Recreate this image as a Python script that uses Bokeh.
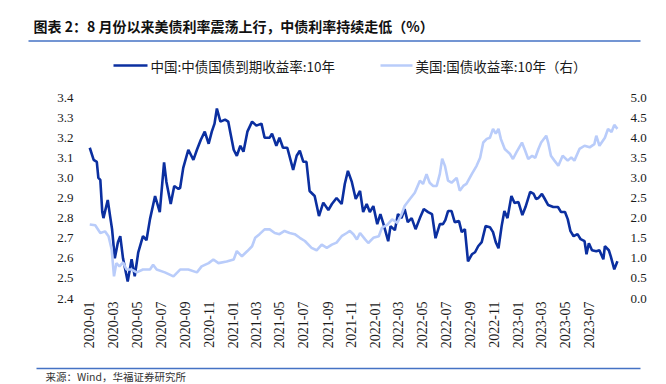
import pandas as pd
from bokeh.plotting import figure
from bokeh.layouts import column
from bokeh.core.properties import value
from bokeh.models import (Range1d, LinearAxis, FixedTicker, DatetimeTickFormatter,
                          PrintfTickFormatter)
from bokeh.embed import file_html
from bokeh.resources import INLINE
import math

title_text = "图表 2：8 月份以来美债利率震荡上行，中债利率持续走低（%）"
source_text = "来源：Wind，华福证券研究所"
cn_name = "中国:中债国债到期收益率:10年"
us_name = "美国:国债收益率:10年（右）"

cn_dates = ["2020-01-02", "2020-01-12", "2020-01-20", "2020-01-24", "2020-01-29", "2020-02-03",
            "2020-02-06", "2020-02-17", "2020-02-23", "2020-02-28", "2020-03-06", "2020-03-14",
            "2020-03-20", "2020-03-27", "2020-04-08", "2020-04-18", "2020-04-26", "2020-05-05",
            "2020-05-17", "2020-05-26", "2020-06-04", "2020-06-17", "2020-06-29", "2020-07-10",
            "2020-07-16", "2020-07-27", "2020-08-05", "2020-08-16", "2020-08-20", "2020-08-28",
            "2020-09-10", "2020-09-23", "2020-10-02", "2020-10-12", "2020-10-22", "2020-11-01",
            "2020-11-09", "2020-11-16", "2020-11-22", "2020-12-01", "2020-12-13", "2020-12-21",
            "2020-12-26", "2021-01-04", "2021-01-12", "2021-01-21", "2021-01-29", "2021-02-08",
            "2021-02-20", "2021-03-03", "2021-03-16", "2021-03-24", "2021-04-06", "2021-04-12",
            "2021-04-23", "2021-05-01", "2021-05-10", "2021-05-21", "2021-06-05", "2021-06-14",
            "2021-06-22", "2021-07-01", "2021-07-09", "2021-07-17", "2021-07-30", "2021-08-10",
            "2021-08-21", "2021-09-03", "2021-09-12", "2021-09-24", "2021-10-07", "2021-10-15",
            "2021-10-23", "2021-11-02", "2021-11-12", "2021-11-23", "2021-12-01", "2021-12-10",
            "2021-12-18", "2021-12-27", "2022-01-06", "2022-01-14", "2022-01-22", "2022-02-03",
            "2022-02-09", "2022-02-20", "2022-02-28", "2022-03-09", "2022-03-17", "2022-03-25",
            "2022-04-04", "2022-04-14", "2022-04-25", "2022-05-05", "2022-05-16", "2022-05-26",
            "2022-06-04", "2022-06-15", "2022-06-23", "2022-06-29", "2022-07-06", "2022-07-15",
            "2022-07-23", "2022-08-03", "2022-08-10", "2022-08-18", "2022-08-26", "2022-09-05",
            "2022-09-13", "2022-09-21", "2022-09-30", "2022-10-10", "2022-10-21", "2022-10-29",
            "2022-11-05", "2022-11-12", "2022-11-20", "2022-11-27", "2022-12-05", "2022-12-15",
            "2022-12-23", "2023-01-02", "2023-01-12", "2023-01-20", "2023-02-01", "2023-02-10",
            "2023-02-16", "2023-02-22", "2023-03-03", "2023-03-09", "2023-03-19", "2023-04-01",
            "2023-04-13", "2023-04-21", "2023-05-01", "2023-05-08", "2023-05-15", "2023-05-23",
            "2023-06-02", "2023-06-10", "2023-06-20", "2023-06-25", "2023-07-01", "2023-07-09",
            "2023-07-20", "2023-07-28", "2023-08-07", "2023-08-11", "2023-08-21", "2023-08-26",
            "2023-09-04", "2023-09-12"]
cn_values = [3.15, 3.09, 3.08, 3.00, 2.99, 2.83,
             2.80, 2.89, 2.81, 2.745, 2.60, 2.68,
             2.71, 2.60, 2.485, 2.595, 2.51, 2.63,
             2.71, 2.69, 2.795, 2.91, 2.83, 3.077,
             2.98, 2.87, 2.96, 2.945, 2.95, 3.05,
             3.14, 3.09, 3.14, 3.19, 3.23, 3.17,
             3.23, 3.27, 3.345, 3.28, 3.29, 3.28,
             3.23, 3.14, 3.11, 3.16, 3.13, 3.23,
             3.28, 3.26, 3.27, 3.20, 3.20, 3.22,
             3.16, 3.20, 3.15, 3.15, 3.04, 3.11,
             3.135, 3.08, 3.08, 2.935, 2.91, 2.81,
             2.877, 2.84, 2.87, 2.90, 2.87, 2.97,
             3.035, 2.98, 2.895, 2.935, 2.83, 2.87,
             2.83, 2.86, 2.77, 2.82, 2.77, 2.685,
             2.76, 2.74, 2.82, 2.80, 2.845, 2.78,
             2.80, 2.745, 2.80, 2.845, 2.83, 2.82,
             2.70, 2.77, 2.77, 2.79, 2.835, 2.835,
             2.78, 2.785, 2.73, 2.745, 2.585, 2.62,
             2.63, 2.66, 2.68, 2.76, 2.755, 2.73,
             2.68, 2.65, 2.76, 2.835, 2.80, 2.91,
             2.875, 2.88, 2.815, 2.855, 2.93, 2.92,
             2.895, 2.90, 2.92, 2.90, 2.865, 2.855,
             2.855, 2.83, 2.83, 2.795, 2.735, 2.71,
             2.72, 2.695, 2.685, 2.62, 2.675, 2.64,
             2.635, 2.64, 2.595, 2.66, 2.64, 2.61,
             2.545, 2.585]

us_dates = ["2020-01-02", "2020-01-16", "2020-01-29", "2020-02-10", "2020-02-19", "2020-02-27",
            "2020-03-04", "2020-03-10", "2020-03-18", "2020-03-27", "2020-04-05", "2020-04-18",
            "2020-05-01", "2020-05-17", "2020-06-04", "2020-06-12", "2020-06-21", "2020-07-12",
            "2020-08-03", "2020-08-20", "2020-08-28", "2020-09-10", "2020-10-02", "2020-10-14",
            "2020-11-01", "2020-11-13", "2020-11-26", "2020-12-17", "2021-01-04", "2021-01-12",
            "2021-01-25", "2021-02-08", "2021-02-20", "2021-02-28", "2021-03-11", "2021-03-24",
            "2021-04-06", "2021-04-19", "2021-05-01", "2021-05-14", "2021-05-27", "2021-06-09",
            "2021-06-22", "2021-07-05", "2021-07-22", "2021-08-04", "2021-08-17", "2021-08-30",
            "2021-09-12", "2021-09-24", "2021-10-07", "2021-10-20", "2021-10-28", "2021-11-06",
            "2021-11-15", "2021-11-23", "2021-12-06", "2021-12-14", "2021-12-27", "2022-01-10",
            "2022-01-18", "2022-02-01", "2022-02-13", "2022-02-26", "2022-03-09", "2022-03-17",
            "2022-03-30", "2022-04-12", "2022-04-25", "2022-05-03", "2022-05-12", "2022-05-20",
            "2022-05-29", "2022-06-07", "2022-06-15", "2022-06-21", "2022-06-28", "2022-07-06",
            "2022-07-15", "2022-07-28", "2022-08-05", "2022-08-14", "2022-08-22", "2022-09-05",
            "2022-09-17", "2022-09-26", "2022-10-04", "2022-10-13", "2022-10-21", "2022-10-29",
            "2022-11-05", "2022-11-12", "2022-11-18", "2022-11-28", "2022-12-11", "2022-12-19",
            "2022-12-28", "2023-01-11", "2023-01-19", "2023-01-27", "2023-02-06", "2023-02-14",
            "2023-02-22", "2023-03-01", "2023-03-14", "2023-03-19", "2023-03-26", "2023-04-04",
            "2023-04-14", "2023-04-25", "2023-05-08", "2023-05-17", "2023-05-25", "2023-06-07",
            "2023-06-20", "2023-07-03", "2023-07-15", "2023-07-20", "2023-07-28", "2023-08-11",
            "2023-08-19", "2023-08-28", "2023-09-04", "2023-09-12"]
us_values = [1.84, 1.82, 1.63, 1.67, 1.55, 1.22,
             0.55, 0.88, 0.80, 0.90, 0.72, 0.72,
             0.65, 0.72, 0.72, 0.84, 0.72, 0.65,
             0.55, 0.72, 0.72, 0.72, 0.65, 0.80,
             0.88, 0.97, 0.88, 0.92, 0.97, 1.18,
             1.05, 1.18, 1.30, 1.51, 1.60, 1.72,
             1.72, 1.63, 1.60, 1.68, 1.63, 1.60,
             1.51, 1.43, 1.26, 1.20, 1.34, 1.26,
             1.34, 1.39, 1.55, 1.63, 1.68, 1.60,
             1.47, 1.63, 1.47, 1.38, 1.51, 1.55,
             1.76, 1.84, 1.97, 1.88, 2.09, 2.30,
             2.47, 2.63, 2.93, 2.85, 3.09, 2.88,
             2.80, 2.80, 3.10, 3.48, 3.30, 2.93,
             2.88, 3.00, 2.68, 2.80, 2.85, 3.10,
             3.30, 3.50, 3.88, 3.97, 4.00, 4.22,
             4.10, 4.22, 3.97, 3.72, 3.60, 3.47,
             3.64, 3.88, 3.68, 3.47, 3.55, 3.50,
             3.72, 3.88, 4.05, 3.88, 3.55, 3.43,
             3.30, 3.55, 3.43, 3.51, 3.43, 3.72,
             3.80, 3.76, 3.84, 4.05, 3.80, 4.00,
             4.22, 4.14, 4.32, 4.22]

x_tick_labels = ["2020-01", "2020-03", "2020-05", "2020-07", "2020-09", "2020-11",
                 "2021-01", "2021-03", "2021-05", "2021-07", "2021-09", "2021-11",
                 "2022-01", "2022-03", "2022-05", "2022-07", "2022-09", "2022-11",
                 "2023-01", "2023-03", "2023-05", "2023-07"]
left_ticks = [2.4, 2.5, 2.6, 2.7, 2.8, 2.9, 3.0, 3.1, 3.2, 3.3, 3.4]
right_ticks = [0.0, 0.5, 1.0, 1.5, 2.0, 2.5, 3.0, 3.5, 4.0, 4.5, 5.0]

CN_COLOR = "#0B2FA0"
US_COLOR = "#B9CCFA"
RULE_COLOR = "#4472C4"
TEXT_COLOR = "#1A1A1A"
SERIF = "Liberation Serif"
CJK = "Noto Sans CJK SC"
W = 666


def no_frame_align(f):
    if "frame_align" in f.properties():
        f.frame_align = False
    return f


def blank(height, y_top):
    f = figure(width=W, height=height, x_range=Range1d(0, W),
               y_range=Range1d(y_top + height, y_top), output_backend="svg",
               toolbar_location=None, x_axis_location=None, y_axis_location=None,
               min_border=0, min_border_left=0, min_border_right=0,
               min_border_top=0, min_border_bottom=0)
    f.outline_line_color = None
    f.grid.visible = False
    return no_frame_align(f)


# ---- header: title, rule, legend ----
hdr = blank(88, 0)
hdr.text(x=[33], y=[25], text=[title_text], text_font=value(CJK), text_font_style="bold",
         text_font_size="14px", text_baseline="middle", text_color="#111111")
hdr.segment(x0=[28], y0=[40.5], x1=[640], y1=[40.5], line_color=RULE_COLOR, line_width=1.6)
hdr.segment(x0=[113], y0=[65], x1=[147], y1=[65], line_color=CN_COLOR, line_width=2.6)
hdr.text(x=[150], y=[65], text=[cn_name], text_font=value(CJK), text_font_size="13.5px",
         text_baseline="middle", text_color=TEXT_COLOR)
hdr.segment(x0=[380], y0=[65], x1=[412], y1=[65], line_color=US_COLOR, line_width=2.6)
hdr.text(x=[415], y=[65], text=[us_name], text_font=value(CJK), text_font_size="13.5px",
         text_baseline="middle", text_color=TEXT_COLOR)

# ---- main chart ----
cn_x = pd.to_datetime(cn_dates)
us_x = pd.to_datetime(us_dates)
tick_ms = [pd.Timestamp(t + "-01").timestamp() * 1000 for t in x_tick_labels]

p = figure(width=W, height=278, x_axis_type="datetime", output_backend="svg",
           toolbar_location=None,
           x_range=Range1d(pd.Timestamp("2019-12-17"), pd.Timestamp("2023-09-25")),
           y_range=Range1d(2.4, 3.4),
           min_border_left=83, min_border_right=44, min_border_top=9, min_border_bottom=68)
no_frame_align(p)
p.extra_y_ranges = {"us": Range1d(0.0, 5.0)}
p.outline_line_color = None
p.xgrid.visible = False
p.ygrid.visible = False

fmt = "%Y-%m"
p.xaxis.ticker = FixedTicker(ticks=tick_ms)
p.xaxis.formatter = DatetimeTickFormatter(days=fmt, months=fmt, years=fmt, hours=fmt,
                                          minutes=fmt, seconds=fmt, milliseconds=fmt,
                                          microseconds=fmt, hourmin=fmt, minsec=fmt)
p.xaxis.major_label_orientation = math.pi / 2
p.yaxis.ticker = FixedTicker(ticks=left_ticks)
p.yaxis.formatter = PrintfTickFormatter(format="%.1f")

right_axis = LinearAxis(y_range_name="us", ticker=FixedTicker(ticks=right_ticks),
                        formatter=PrintfTickFormatter(format="%.1f"))
p.add_layout(right_axis, "right")

for ax in [p.xaxis[0], p.yaxis[0], right_axis]:
    ax.axis_line_color = None
    ax.major_tick_line_color = None
    ax.minor_tick_line_color = None
    ax.major_tick_out = 0
    ax.major_tick_in = 0
    ax.minor_tick_out = 0
    ax.major_label_text_font = SERIF
    ax.major_label_text_font_size = "13px"
    ax.major_label_text_color = TEXT_COLOR
p.xaxis.major_label_text_font_size = "14px"
p.xaxis.major_label_standoff = 3
p.yaxis.major_label_standoff = 10
right_axis.major_label_standoff = 8

p.line(cn_x, cn_values, line_color=CN_COLOR, line_width=2.6)
p.line(us_x, us_values, y_range_name="us", line_color=US_COLOR, line_width=2.6)

# ---- footer: rule and source ----
ftr = blank(18, 366)
ftr.segment(x0=[36], y0=[368], x1=[640], y1=[368], line_color=RULE_COLOR, line_width=1.6)
ftr.text(x=[45], y=[376], text=[source_text], text_font=value(CJK), text_font_size="10.5px",
         text_baseline="middle", text_color="#333333")

layout = column(hdr, p, ftr, spacing=0)
open("out.html", "w").write(file_html(layout, INLINE))
